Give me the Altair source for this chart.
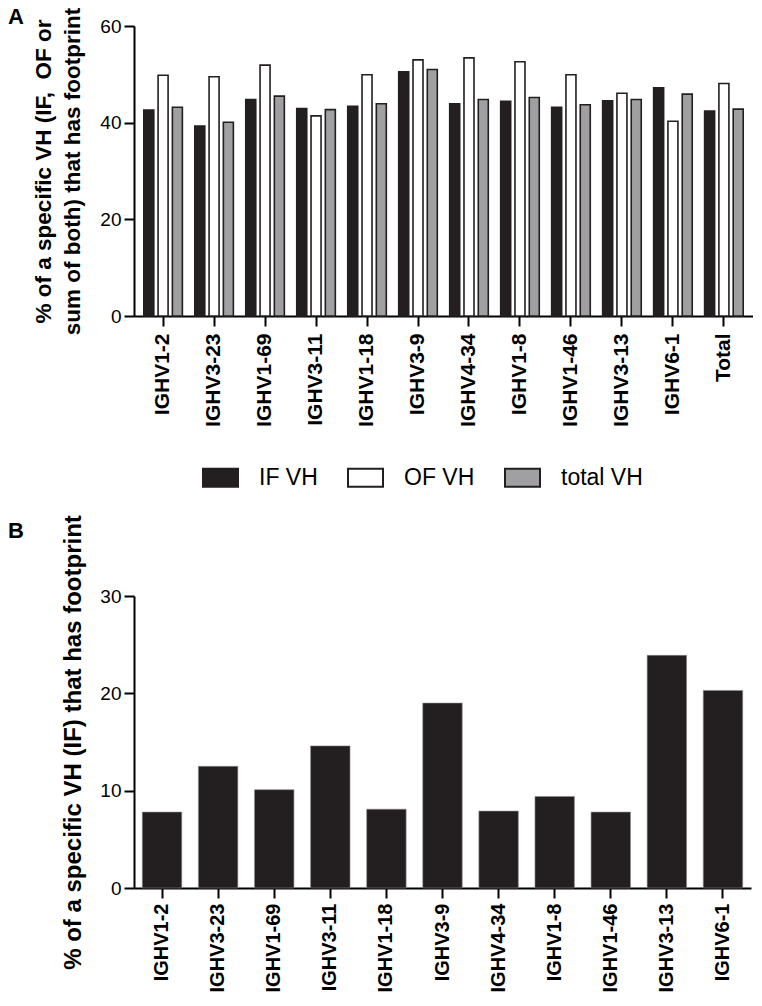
import altair as alt
import pandas as pd

FONT = "Liberation Sans"

genes_a = ["IGHV1-2", "IGHV3-23", "IGHV1-69", "IGHV3-11", "IGHV1-18", "IGHV3-9",
           "IGHV4-34", "IGHV1-8", "IGHV1-46", "IGHV3-13", "IGHV6-1", "Total"]
series = ["IF VH", "OF VH", "total VH"]
if_vals = [42.6, 39.3, 44.8, 42.9, 43.4, 50.5, 43.9, 44.4, 43.2, 44.5, 47.2, 42.4]
of_vals = [49.8, 49.5, 51.9, 41.4, 49.9, 53.0, 53.4, 52.6, 49.9, 46.1, 40.3, 48.1]
total_vals = [43.2, 40.1, 45.5, 42.7, 43.9, 51.0, 44.8, 45.2, 43.7, 44.8, 45.9, 42.8]
series_colors = ["#231f20", "#ffffff", "#a0a0a2"]

genes_b = ["IGHV1-2", "IGHV3-23", "IGHV1-69", "IGHV3-11", "IGHV1-18", "IGHV3-9",
           "IGHV4-34", "IGHV1-8", "IGHV1-46", "IGHV3-13", "IGHV6-1"]
b_vals = [7.8, 12.5, 10.1, 14.6, 8.1, 19.0, 7.9, 9.4, 7.8, 23.9, 20.3]

title_a = ["% of a specific VH (IF,\u00a0 OF or", "sum of both) that has footprint"]
title_b = "% of a specific VH (IF) that has footprint"

rows = []
for g, a, b, c in zip(genes_a, if_vals, of_vals, total_vals):
    rows.append({"gene": g, "series": series[0], "value": a})
    rows.append({"gene": g, "series": series[1], "value": b})
    rows.append({"gene": g, "series": series[2], "value": c})
df_a = pd.DataFrame(rows)
df_b = pd.DataFrame({"gene": genes_b, "value": b_vals})

bars_a = alt.Chart(df_a).mark_bar(stroke="#231f20", strokeWidth=1.6).encode(
    x=alt.X("gene:N", sort=genes_a,
            scale=alt.Scale(paddingInner=0.159, paddingOuter=0.15),
            axis=alt.Axis(title=None, labelAngle=-90, labelFontSize=21,
                          labelFontWeight="bold", labelPadding=7, tickSize=10)),
    xOffset=alt.XOffset("series:N", sort=series,
                        scale=alt.Scale(paddingInner=0.3, paddingOuter=0.15)),
    y=alt.Y("value:Q", scale=alt.Scale(domain=[0, 60]),
            axis=alt.Axis(values=[0, 20, 40, 60], title=title_a, titleLineHeight=29,
                          titleFontSize=22.5, titleX=-91, titleBaseline="middle",
                          labelFontSize=19, labelPadding=3, tickSize=10)),
    color=alt.Color("series:N", sort=series,
                    scale=alt.Scale(domain=series, range=series_colors),
                    legend=alt.Legend(title=None, orient="none", legendX=68, legendY=433,
                                      direction="horizontal",
                                      symbolType="M-1,-0.514L1,-0.514L1,0.514L-1,0.514Z",
                                      symbolSize=1225, symbolStrokeWidth=2,
                                      symbolStrokeColor="#231f20", symbolOpacity=1,
                                      labelFont=FONT, labelFontSize=23,
                                      labelFontWeight="normal", labelColor="black",
                                      labelOffset=20, columnPadding=26)),
)

lab_a = alt.Chart(pd.DataFrame({"lab": ["A"]})).mark_text(
    align="left", baseline="top", fontSize=22, fontWeight="bold", font=FONT, color="black"
).encode(text="lab:N", x=alt.value(-126), y=alt.value(-19))

panel_a = alt.layer(bars_a, lab_a).properties(width=619, height=290)

bars_b = alt.Chart(df_b).mark_bar(color="#231f20", stroke="#8a8a8a", strokeWidth=0.6).encode(
    x=alt.X("gene:N", sort=genes_b,
            scale=alt.Scale(paddingInner=0.297, paddingOuter=0.148),
            axis=alt.Axis(title=None, labelAngle=-90, labelFontSize=20,
                          labelFontWeight="bold", labelPadding=5, tickSize=10)),
    y=alt.Y("value:Q", scale=alt.Scale(domain=[0, 30]),
            axis=alt.Axis(values=[0, 10, 20, 30], title=title_b, titleFontSize=24,
                          titleX=-61, titleBaseline="middle",
                          labelFontSize=19, labelPadding=3, tickSize=10)),
)

lab_b = alt.Chart(pd.DataFrame({"lab": ["B"]})).mark_text(
    align="left", baseline="top", fontSize=22, fontWeight="bold", font=FONT, color="black"
).encode(text="lab:N", x=alt.value(-126), y=alt.value(-75))

panel_b = alt.layer(bars_b, lab_b).properties(width=617, height=292)

chart = alt.vconcat(panel_a, panel_b, spacing=87).properties(
    padding={"top": -2, "bottom": 1, "left": 0, "right": 0}
).configure(
    font=FONT
).configure_view(stroke=None).configure_axis(
    domainColor="black", domainWidth=2, tickColor="black", tickWidth=2,
    labelColor="black", labelFont=FONT, titleFont=FONT,
    titleFontWeight="bold", titleColor="black", grid=False
)

chart.save("out.html", embed_options={"renderer": "svg", "actions": False})
